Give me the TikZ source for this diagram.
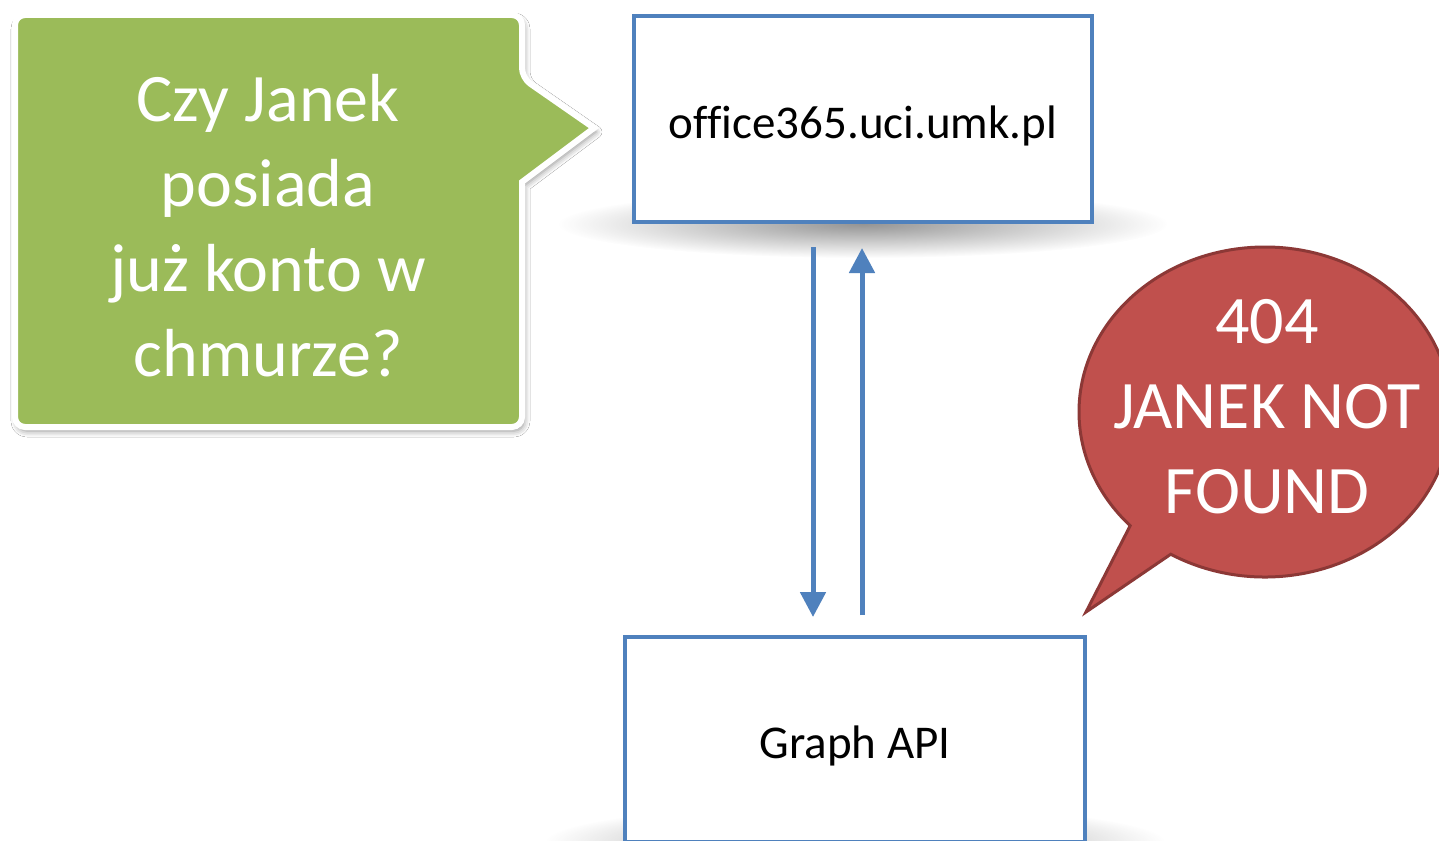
\documentclass[tikz,border=0pt]{standalone}
\usepackage{fontspec}
\setmainfont{Carlito}[Ligatures=NoCommon]
\usetikzlibrary{arrows.meta,shapes.callouts,shadows.blur,fadings}
\definecolor{boxblue}{HTML}{4F81BD}
\definecolor{calloutgreen}{HTML}{9BBB59}
\definecolor{errred}{HTML}{C0504D}
\definecolor{errborder}{HTML}{8C3836}
\tikzfading[name=softfade, inner color=transparent!0, outer color=transparent!100]
\tikzset{
 flowbox/.style={draw=boxblue, line width=4pt, fill=white, minimum width=458pt, minimum height=206pt, inner sep=0pt, font=\fontsize{47}{56}\selectfont},
 flowarrow/.style={draw=boxblue, line width=5pt, -{Triangle[width=25pt,length=25pt]}},
 bigtext/.style={text=white, align=center, font=\fontsize{68}{85}\selectfont, inner sep=0pt},
 boxshadow/.style={fill=black, opacity=0.42, path fading=softfade}
}
\begin{document}
\begin{tikzpicture}[x=1pt,y=-1pt]
\useasboundingbox (0,0) rectangle (1439,840);
\clip (0,0) rectangle (1439,840);
\fill[white] (0,0) rectangle (1439,840);
% soft shadows under the boxes
\fill[boxshadow] (863,224) ellipse [x radius=305, y radius=34];
\fill[boxshadow] (855,842) ellipse [x radius=310, y radius=38];
% boxes
\node[flowbox] (site) at (863,119) {\raisebox{-7pt}[\height][\depth]{office365.uci.umk.pl}};
\node[flowbox, minimum width=460pt, minimum height=205pt] (api) at (855,739.5) {\raisebox{-6pt}[\height][\depth]{Graph API}};
% arrows
\coordinate (downx) at (813,0);
\coordinate (upx) at (862,0);
\draw[flowarrow, shorten <=23pt, shorten >=18pt] (site.south -| downx) -- (api.north -| downx);
\draw[flowarrow, shorten <=20pt, shorten >=24pt] (api.north -| upx) -- (site.south -| upx);
% green callout
\path[draw=white, line width=6pt, line join=miter, fill=calloutgreen,
  blur shadow={shadow xshift=2pt, shadow yshift=-4pt, shadow blur radius=6pt, shadow opacity=45}]
  (15,200) [rounded corners=10pt] -- (15,15) -- (522,15) -- (522,78) [sharp corners] -- (594,128) -- (522,182) [rounded corners=10pt] -- (522,427) -- (15,427) -- cycle;
\node[bigtext] (question) at (268,226) {Czy Janek\\posiada\\już konto w\\chmurze?};
% red speech bubble
\node[ellipse callout, draw=errborder, fill=errred, line width=3pt,
  minimum width=372pt, minimum height=330pt,
  callout absolute pointer={(1086,612)}, callout pointer arc=16] (errbubble) at (1265,412) {};
\node[bigtext] (errtext) at (1267,407) {404\\JANEK NOT\\FOUND};
\end{tikzpicture}
\end{document}
